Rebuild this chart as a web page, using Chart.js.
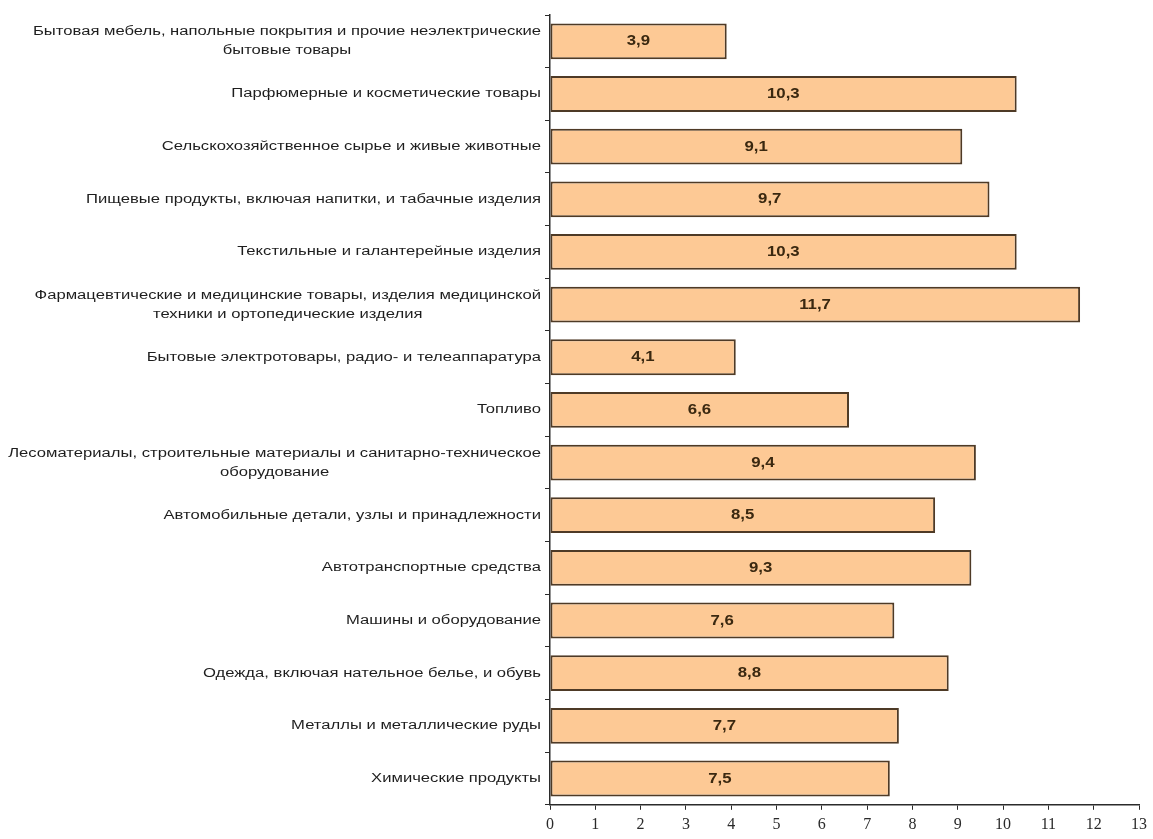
<!DOCTYPE html>
<html>
<head>
<meta charset="utf-8">
<script src="https://cdn.jsdelivr.net/npm/chart.js@4"></script>
<style>
  html, body { margin: 0; padding: 0; background: #fff; }
  #wrap { width: 1153px; height: 839px; }
</style>
</head>
<body>
<div id="wrap"><canvas id="chart"></canvas></div>
<script>
// categories, top to bottom; multi-line names are split into arrays
var categories = [
    ["Бытовая мебель, напольные покрытия и прочие неэлектрические", "бытовые товары"],
    "Парфюмерные и косметические товары",
    "Сельскохозяйственное сырье и живые животные",
    "Пищевые продукты, включая напитки, и табачные изделия",
    "Текстильные и галантерейные изделия",
    ["Фармацевтические и медицинские товары, изделия медицинской", "техники и ортопедические изделия"],
    "Бытовые электротовары, радио- и телеаппаратура",
    "Топливо",
    ["Лесоматериалы, строительные материалы и санитарно-техническое", "оборудование"],
    "Автомобильные детали, узлы и принадлежности",
    "Автотранспортные средства",
    "Машины и оборудование",
    "Одежда, включая нательное белье, и обувь",
    "Металлы и металлические руды",
    "Химические продукты"
];
var values = [3.9, 10.3, 9.1, 9.7, 10.3, 11.7, 4.1, 6.6, 9.4, 8.5, 9.3, 7.6, 8.8, 7.7, 7.5];
var xTicks = [0, 1, 2, 3, 4, 5, 6, 7, 8, 9, 10, 11, 12, 13];

var LABEL_RIGHT = 541;

// category names and bar values are drawn by hand so they can be stretched wide
var labelsPlugin = {
    id: 'stretchedLabels',
    afterDatasetsDraw: function (chart) {
        var ctx = chart.ctx;
        var yScale = chart.scales.y;
        var xScale = chart.scales.x;

        ctx.save();
        ctx.fillStyle = '#1e1e1e';
        ctx.font = '12.5px "Liberation Sans", Arial, sans-serif';
        ctx.textBaseline = 'middle';
        ctx.textAlign = 'center';
        var sx = 1.33;
        categories.forEach(function (cat, i) {
            var lines = Array.isArray(cat) ? cat : [cat];
            var yc = yScale.getPixelForValue(i);
            var w = 0;
            lines.forEach(function (l) { w = Math.max(w, ctx.measureText(l).width * sx); });
            var cx = LABEL_RIGHT - w / 2;
            var lh = 19;
            var y0 = yc - (lines.length - 1) * lh / 2;
            lines.forEach(function (l, k) {
                ctx.save();
                ctx.translate(cx, y0 + k * lh);
                ctx.scale(sx, 1);
                ctx.fillText(l, 0, 0);
                ctx.restore();
            });
        });

        ctx.fillStyle = '#3a2810';
        ctx.font = 'bold 15px "Liberation Sans", Arial, sans-serif';
        var meta = chart.getDatasetMeta(0);
        meta.data.forEach(function (bar, i) {
            var x0 = xScale.getPixelForValue(0);
            var cx = (x0 + bar.x) / 2;
            ctx.save();
            ctx.translate(cx, bar.y);
            ctx.scale(1.12, 1);
            ctx.fillText(String(values[i]).replace('.', ','), 0, 0);
            ctx.restore();
        });
        ctx.restore();
    }
};

new Chart(document.getElementById('chart'), {
    type: 'bar',
    data: {
        labels: categories,
        datasets: [{
            data: values,
            backgroundColor: '#fdc995',
            borderColor: '#4e3a26',
            borderWidth: 2,
            borderSkipped: false,
            categoryPercentage: 1,
            barPercentage: 0.68
        }]
    },
    options: {
        indexAxis: 'y',
        responsive: true,
        maintainAspectRatio: false,
        animation: false,
        layout: { padding: { left: 545, right: 14, top: 15, bottom: 0 } },
        plugins: {
            legend: { display: false },
            tooltip: { enabled: false }
        },
        scales: {
            x: {
                min: 0,
                max: 13,
                afterBuildTicks: function (axis) {
                    axis.ticks = xTicks.map(function (v) { return { value: v }; });
                },
                border: { display: true, color: '#2b2b2b', width: 1.5 },
                grid: { display: true, drawOnChartArea: false, drawTicks: true, tickLength: 5, color: '#2b2b2b', lineWidth: 1 },
                ticks: {
                    color: '#2a2a2a',
                    font: { family: '"Liberation Serif", serif', size: 16 },
                    padding: 5,
                    maxRotation: 0
                }
            },
            y: {
                border: { display: true, color: '#2b2b2b', width: 1.5 },
                grid: { display: true, drawOnChartArea: false, drawTicks: true, tickLength: 5, color: '#2b2b2b', lineWidth: 1, offset: true },
                ticks: { display: false }
            }
        }
    },
    plugins: [labelsPlugin]
});
</script>
</body>
</html>
